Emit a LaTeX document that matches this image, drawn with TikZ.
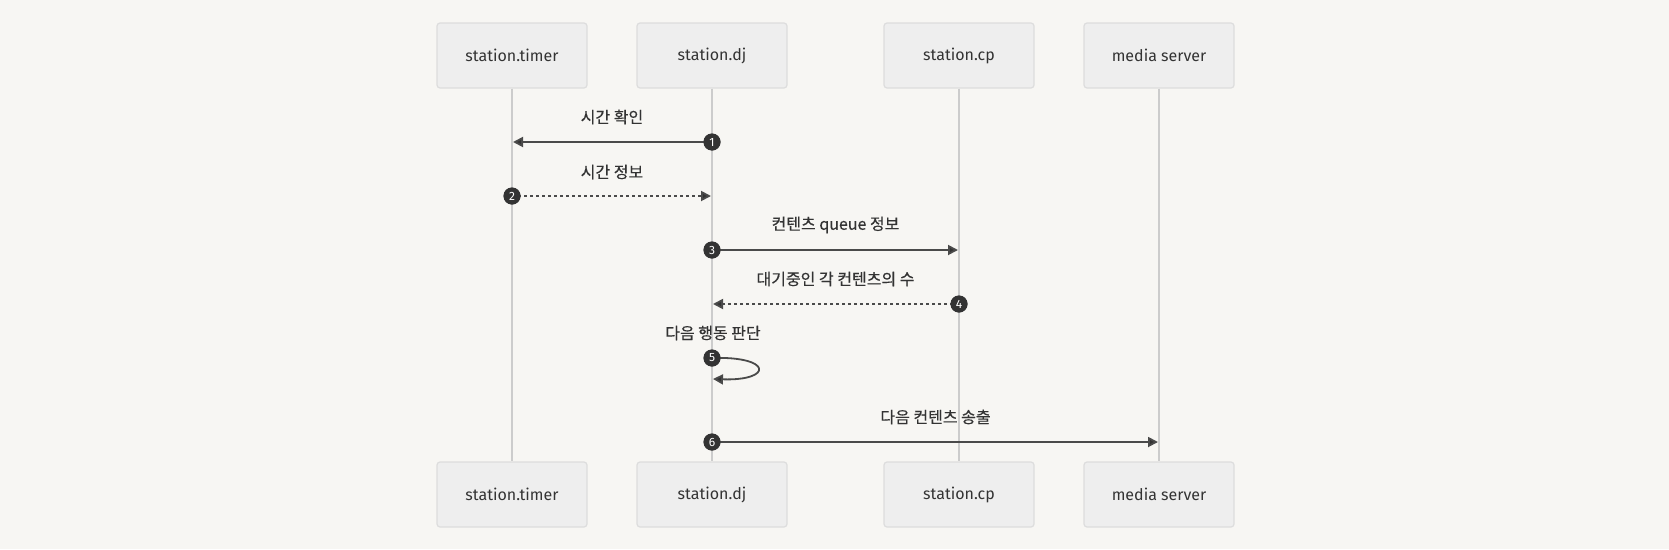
\documentclass[tikz,border=0pt]{standalone}
\usepackage{fontspec}
\setmainfont{Fira Sans}
\newfontfamily\kr[FakeBold=0.3]{Noto Sans CJK KR}
\usetikzlibrary{arrows.meta}
\definecolor{bg}{HTML}{F7F6F3}
\definecolor{boxfill}{HTML}{EEEEEE}
\definecolor{boxline}{HTML}{DDDDDD}
\definecolor{lifec}{HTML}{CCCCCC}
\definecolor{msgc}{HTML}{4A4A4A}
\definecolor{txt}{HTML}{333333}
\definecolor{numc}{HTML}{333333}
\tikzset{
  actor/.style={draw=boxline, line width=1.2pt, fill=boxfill, rounded corners=3pt,
    minimum width=150pt, minimum height=65pt, inner sep=0pt, text=txt,
    font=\fontsize{16pt}{19pt}\selectfont},
  life/.style={draw=lifec, line width=1.6pt},
  msg/.style={draw=msgc, line width=1.8pt, -{Triangle[length=10pt,width=10pt,fill=numc]}},
  dmsg/.style={msg, dash pattern=on 3pt off 3pt},
  num/.style={circle, fill=numc, text=white, minimum size=17pt, inner sep=0pt,
    font=\fontsize{12pt}{13pt}\selectfont},
  lbl/.style={text=txt, inner sep=0pt, font=\kr\fontsize{16pt}{19pt}\selectfont}
}
\begin{document}
\begin{tikzpicture}[x=1pt,y=-1pt]
\fill[bg] (0,0) rectangle (1669,549);
\useasboundingbox (0,0) rectangle (1669,549);
% actor boxes
\node[actor] (t1) at (512,55.5) {station.timer};
\node[actor] (d1) at (712,55.5) {station.dj};
\node[actor] (c1) at (959,55.5) {station.cp};
\node[actor] (m1) at (1159,55.5) {media server};
\node[actor] (t2) at (512,494.5) {station.timer};
\node[actor] (d2) at (712,494.5) {station.dj};
\node[actor] (c2) at (959,494.5) {station.cp};
\node[actor] (m2) at (1159,494.5) {media server};
% lifelines
\draw[life] (t1) -- (t2);
\draw[life] (d1) -- (d2);
\draw[life] (c1) -- (c2);
\draw[life] (m1) -- (m2);
% message end points
\coordinate (e1) at (513,142);
\coordinate (e2) at (711,196);
\coordinate (e3) at (958,250);
\coordinate (e4) at (713,304);
\coordinate (e5) at (713,379);
\coordinate (e6) at (1158,442);
% numbers
\node[num] (n1) at (712,142) {};
\node[num] (n2) at (512,196) {};
\node[num] (n3) at (712,250) {};
\node[num] (n4) at (959,304) {};
\node[num] (n5) at (712,358) {};
\node[num] (n6) at (712,442) {};
% messages
\draw[msg] (n1.center) -- (e1);
\draw[dmsg] (n2.center) -- (e2);
\draw[msg] (n3.center) -- (e3);
\draw[dmsg] (n4.center) -- (e4);
\draw[msg] (n5.center) .. controls (773,356) and (773,381) .. (e5);
\draw[msg] (n6.center) -- (e6);
% redraw number circles on top
\foreach \n/\k in {n1/1,n2/2,n3/3,n4/4,n5/5,n6/6}{
  \node[num] at (\n) {\k};
}
% labels
\node[lbl] (l1) at (612,117) {시간 확인};
\node[lbl] (l2) at (612,172) {시간 정보};
\node[lbl] (l3) at (835.5,225) {컨텐츠 queue 정보};
\node[lbl] (l4) at (835.5,279) {대기중인 각 컨텐츠의 수};
\node[lbl] (l5) at (713,333) {다음 행동 판단};
\node[lbl] (l6) at (935.5,417) {다음 컨텐츠 송출};
\end{tikzpicture}
\end{document}
